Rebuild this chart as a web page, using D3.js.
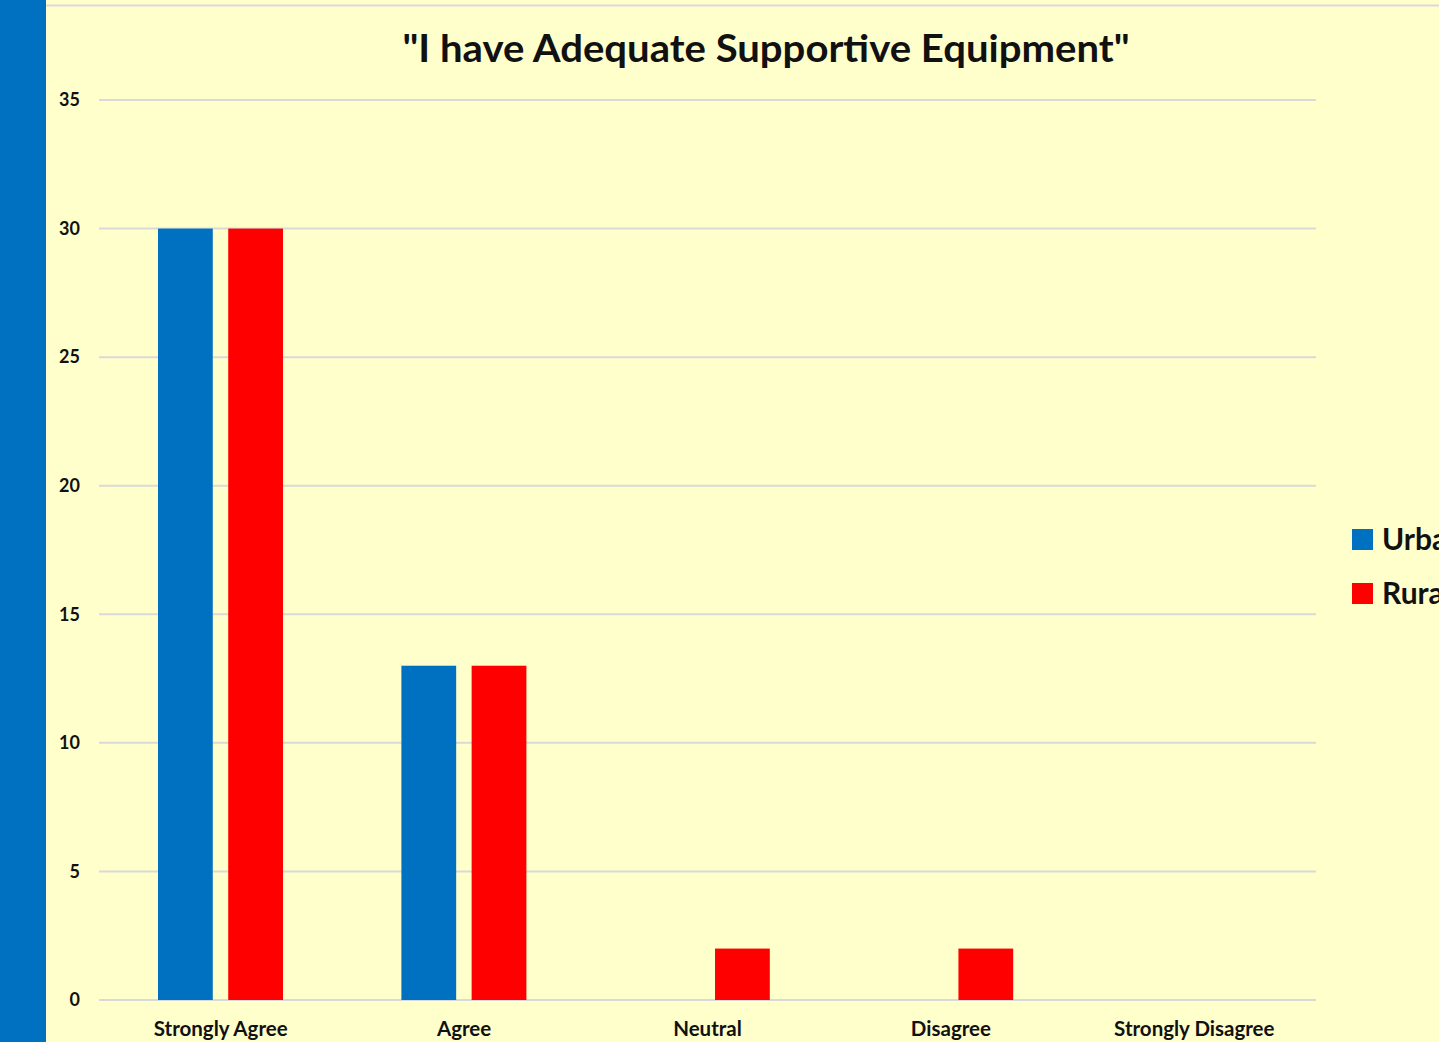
<!DOCTYPE html>
<html lang="en">
<head>
<meta charset="UTF-8">
<title>I have Adequate Supportive Equipment</title>
<script src="https://d3js.org/d3.v7.min.js"></script>
<style>
    html, body { margin: 0; padding: 0; overflow: hidden; background: #ffffcc; }
    text { font-family: Lato, "Open Sans", sans-serif; font-weight: bold; fill: #111; }
</style>
</head>
<body>
<div id="chart"></div>
<script>
// data
var categories = ["Strongly Agree", "Agree", "Neutral", "Disagree", "Strongly Disagree"];
var seriesNames = ["Urban", "Rural"];
var urbanValues = [30, 13, 0, 0, 0];
var ruralValues = [30, 13, 2, 2, 0];
var yTicks = [0, 5, 10, 15, 20, 25, 30, 35];

var W = 1439, H = 1042;
var margin = {top: 100, right: 123, bottom: 42, left: 99},
    width = W - margin.left - margin.right,
    height = H - margin.top - margin.bottom;

var svg = d3.select("#chart").append("svg")
    .attr("width", W).attr("height", H);

svg.append("rect").attr("width", W).attr("height", H).attr("fill", "#ffffcc");
// blue stripe at the left edge
svg.append("rect").attr("x", 0).attr("y", 0).attr("width", 46).attr("height", H).attr("fill", "#0070c0");
// thin rule at the top
svg.append("line").attr("x1", 46).attr("x2", W).attr("y1", 5.5).attr("y2", 5.5)
    .attr("stroke", "#d9d9d9").attr("stroke-width", 2);

var g = svg.append("g").attr("transform", "translate(" + margin.left + "," + margin.top + ")");

var data = categories.map(function(c, i) {
    return {cat: c, Urban: urbanValues[i], Rural: ruralValues[i]};
});

var x = d3.scaleBand().domain(categories).range([0, width]);
var xSub = d3.scaleBand().domain(seriesNames).range([59, 184]).paddingInner(0.22);
var y = d3.scaleLinear().domain([0, 35]).range([height, 0]);
var color = d3.scaleOrdinal().domain(seriesNames).range(["#0070c0", "#ff0000"]);

// gridlines
g.append("g").selectAll("line").data(yTicks).enter().append("line")
    .attr("x1", 0).attr("x2", width)
    .attr("y1", d => y(d)).attr("y2", d => y(d))
    .attr("stroke", "#d9d9d9").attr("stroke-width", 2);

// y axis labels
var yAxis = g.append("g")
    .call(d3.axisLeft(y).tickValues(yTicks).tickSize(0).tickPadding(19));
yAxis.select(".domain").remove();
yAxis.selectAll("text").style("font-size", "18px").attr("fill", "#111");

// bars
g.append("g").selectAll("g").data(data).enter().append("g")
    .attr("transform", d => "translate(" + x(d.cat) + ",0)")
  .selectAll("rect")
    .data(d => seriesNames.map(k => ({key: k, value: d[k]})))
    .enter().append("rect")
    .attr("x", d => xSub(d.key))
    .attr("y", d => y(d.value))
    .attr("width", xSub.bandwidth())
    .attr("height", d => height - y(d.value))
    .attr("fill", d => color(d.key));

// x axis labels
var xAxis = g.append("g").attr("transform", "translate(0," + height + ")")
    .call(d3.axisBottom(x).tickSize(0).tickPadding(21));
xAxis.select(".domain").remove();
xAxis.selectAll("text").style("font-size", "20.5px").attr("fill", "#111");

// title
svg.append("text")
    .attr("x", 766).attr("y", 62)
    .attr("text-anchor", "middle")
    .attr("textLength", 727).attr("lengthAdjust", "spacingAndGlyphs")
    .style("font-size", "38px")
    .text("\"I have Adequate Supportive Equipment\"");

// legend (runs off the right edge like the original)
var legend = svg.selectAll(".legend").data(seriesNames).enter().append("g")
    .attr("class", "legend")
    .attr("transform", (d, i) => "translate(1352," + (529 + i * 54) + ")");
legend.append("rect").attr("width", 21).attr("height", 21).attr("fill", d => color(d));
legend.append("text").attr("x", 30).attr("y", 21)
    .style("font-size", "30px").text(d => d);
</script>
</body>
</html>
